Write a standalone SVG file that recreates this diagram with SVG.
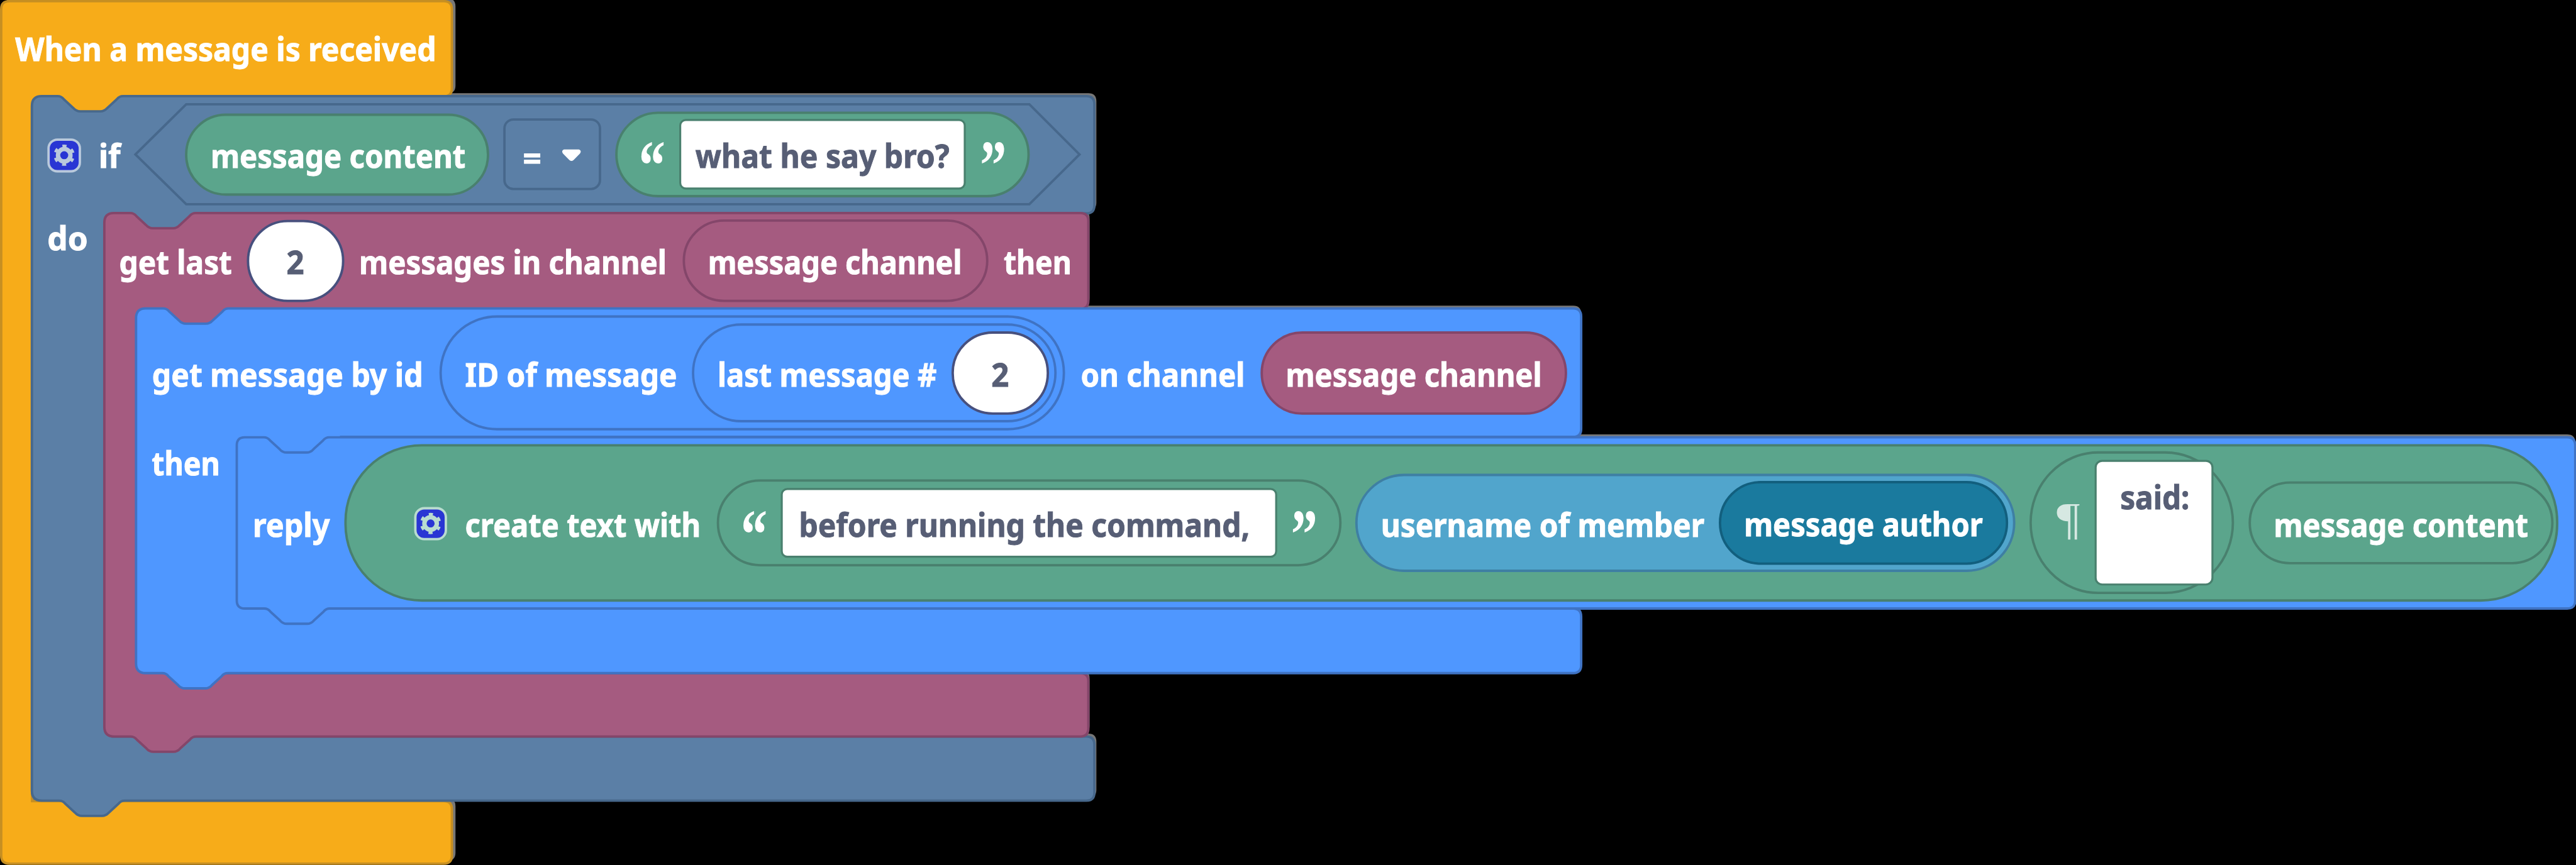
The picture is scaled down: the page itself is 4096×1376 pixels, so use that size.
<svg xmlns="http://www.w3.org/2000/svg" xmlns:xlink="http://www.w3.org/1999/xlink" width="4096" height="1376" viewBox="0 0 4096 1376">
<style>
text{font-family:"Noto Sans","Open Sans","Liberation Sans",sans-serif;font-weight:700;font-size:82px;fill:#fff;stroke:#fff;stroke-width:1.5}
text.d{fill:#575e75;stroke:#575e75}
text.q{font-family:"Liberation Serif",serif;font-size:175px;stroke:none}
text.p{font-family:"Liberation Serif",serif;font-weight:400;font-size:112px;opacity:.75;stroke:none}
.ghost{fill:#777}
.hat{fill:#f7ac19;stroke:#c68f22;stroke-width:6}
.ctl{fill:#5b7fa6;stroke:#47688c;stroke-width:6}
.pur{fill:#a55b80;stroke:#84466a;stroke-width:6}
.blu{fill:#4f97ff;stroke:#3f73c4;stroke-width:6}
.grn{fill:#5ba58c;stroke:#49806e;stroke-width:6}
.lbl{fill:#51a5cc;stroke:#3e7fa3;stroke-width:6}
.tea{fill:#1a7a9e;stroke:#125f7e;stroke-width:6}
.wht{fill:#fff;stroke:#49806e;stroke-width:5}
.num{fill:#fff;stroke:#47507e;stroke-width:6}
.ico{stroke-width:6;fill:#2936d4}
</style>
<defs>
<path id="p-hat" d="M3,23Q3,3 23,3H1106Q1126,3 1126,23V220Q1126,240 1106,240H340V300H80V1997H1106Q1126,1997 1126,2017V2133Q1126,2153 1106,2153H23Q3,2153 3,2133Z"/>
<path id="p-if" d="M79.5,264Q79.5,239.5 104,239.5H143q10,0 16,8l24,22q7,8 17,8h50q10,0 17,-8l24,-22q6,-8 16,-8H2707Q2727,239.5 2727,259.5V512Q2727,532 2707,532H520V600H280V1836H2707Q2727,1836 2727,1856V1976Q2727,1996 2707,1996H311q-10,0 -16,8l-24,22q-7,8 -17,8h-50q-10,0 -17,-8l-24,-22q-6,-8 -16,-8H104Q79.5,1996 79.5,1972Z"/>
<path id="p-get" d="M260,555Q260,531 284,531H324q10,0 16,8l24,22q7,8 17,8h50q10,0 17,-8l24,-22q6,-8 16,-8H2692Q2712,531 2712,551V750Q2712,770 2692,770H600V830H460V1678H2692Q2712,1678 2712,1698V1816Q2712,1836 2692,1836H489q-10,0 -16,8l-24,22q-7,8 -17,8h-50q-10,0 -17,-8l-24,-22q-6,-8 -16,-8H284Q260,1836 260,1812Z"/>
<path id="p-msg" d="M339,793Q339,769 363,769H406q10,0 16,8l24,22q7,8 17,8h50q10,0 17,-8l24,-22q6,-8 16,-8H3920Q3940,769 3940,789V1069Q3940,1089 3920,1089H850V1150H700V1517H3920Q3940,1517 3940,1537V1658Q3940,1678 3920,1678H568q-10,0 -16,8l-24,22q-7,8 -17,8h-50q-10,0 -17,-8l-24,-22q-6,-8 -16,-8H363Q339,1678 339,1654Z"/>
<path id="p-rep" d="M590,1110Q590,1090 610,1090H657q10,0 16,8l24,22q7,8 17,8h50q10,0 17,-8l24,-22q6,-8 16,-8H6397Q6417,1090 6417,1110V1497Q6417,1517 6397,1517H822q-10,0 -16,8l-24,22q-7,8 -17,8h-50q-10,0 -17,-8l-24,-22q-6,-8 -16,-8H610Q590,1517 590,1497Z"/>
<g id="gear" fill="none">
<circle r="15.5" stroke-width="11"/>
<circle r="23" stroke-width="7" stroke-dasharray="10 14.08" stroke-dashoffset="5" transform="rotate(30)"/>
</g>
</defs>
<rect id="background" width="4096" height="1376" fill="#000"/>
<g transform="scale(.63811)">
<g id="outer-edges">
<use href="#p-hat" class="ghost" transform="translate(9,-7)"/>
<use href="#p-if" class="ghost" transform="translate(5,-7)"/>
<use href="#p-get" class="ghost" transform="translate(3,-7)"/>
<use href="#p-msg" class="ghost" transform="translate(0,-7)"/>
<use href="#p-rep" class="ghost" transform="translate(0,-7)"/>
</g>
<g id="when-message">
<use href="#p-hat" class="hat"/>
<text x="38" y="152" textLength="1049" lengthAdjust="spacingAndGlyphs">When a message is received</text>
</g>
<g id="if-block">
<use href="#p-if" class="ctl"/>
<rect class="ico" x="121" y="348" width="78" height="79" rx="22" stroke="#b9c9dc"/>
<use href="#gear" x="160" y="387" stroke="#b9c9dc"/>
<text x="246" y="418" textLength="54" lengthAdjust="spacingAndGlyphs">if</text>
<text x="118" y="623" textLength="101" lengthAdjust="spacingAndGlyphs">do</text>
<g id="condition">
<path class="ctl" d="M337.5,385L464,260H2565L2690,385L2565,509H464Z"/>
<g id="cond-left">
<rect class="grn" x="464" y="286" width="752" height="199" rx="99" />
<text x="525" y="418" textLength="635" lengthAdjust="spacingAndGlyphs">message content</text>
</g>
<g id="cond-op">
<rect class="ctl" x="1257" y="298" width="238" height="173" rx="22"/>
<text x="1303" y="424" textLength="46" lengthAdjust="spacingAndGlyphs">=</text>
<path d="M1406,374H1442Q1448,376 1444,382L1428,398Q1424,401 1420,398L1404,382Q1400,376 1406,374Z" fill="#fff" stroke="#fff" stroke-width="3"/>
</g>
<g id="cond-right">
<rect class="grn" x="1536" y="281" width="1027" height="208" rx="104"/>
<text class="q" x="1592" y="472" textLength="66" lengthAdjust="spacingAndGlyphs">“</text>
<rect class="wht" x="1695" y="299" width="709" height="171" rx="14"/>
<text class="d" x="1733" y="419" textLength="633" lengthAdjust="spacingAndGlyphs">what he say bro?</text>
<text class="q" x="2442" y="472" textLength="66" lengthAdjust="spacingAndGlyphs">”</text>
</g>
</g>
</g>
<g id="get-last-messages">
<use href="#p-get" class="pur"/>
<text x="297" y="684" textLength="281" lengthAdjust="spacingAndGlyphs">get last</text>
<g id="count-a">
<rect class="num" x="618" y="551" width="237" height="199" rx="99"/>
<text class="d" x="714" y="684" textLength="44" lengthAdjust="spacingAndGlyphs">2</text>
</g>
<text x="895" y="684" textLength="766" lengthAdjust="spacingAndGlyphs">messages in channel</text>
<g id="channel-a">
<rect class="pur" x="1704" y="550" width="756" height="200" rx="100"/>
<text x="1764" y="684" textLength="633" lengthAdjust="spacingAndGlyphs">message channel</text>
</g>
<text x="2501" y="684" textLength="169" lengthAdjust="spacingAndGlyphs">then</text>
</g>
<g id="get-message-by-id">
<use href="#p-msg" class="blu"/>
<text x="379" y="964" textLength="675" lengthAdjust="spacingAndGlyphs">get message by id</text>
<g id="id-of-message">
<rect class="blu" x="1098" y="789" width="1553" height="281" rx="140"/>
<text x="1159" y="964" textLength="528" lengthAdjust="spacingAndGlyphs">ID of message</text>
<g id="last-message">
<rect class="blu" x="1727" y="809" width="903" height="241" rx="120"/>
<text x="1788" y="964" textLength="546" lengthAdjust="spacingAndGlyphs">last message #</text>
<g id="count-b">
<rect class="num" x="2374" y="829" width="237" height="202" rx="100"/>
<text class="d" x="2470" y="964" textLength="44" lengthAdjust="spacingAndGlyphs">2</text>
</g>
</g>
</g>
<text x="2693" y="964" textLength="409" lengthAdjust="spacingAndGlyphs">on channel</text>
<g id="channel-b">
<rect class="pur" x="3144" y="829" width="758" height="202" rx="101"/>
<text x="3204" y="964" textLength="638" lengthAdjust="spacingAndGlyphs">message channel</text>
</g>
<text x="378" y="1184" textLength="170" lengthAdjust="spacingAndGlyphs">then</text>
</g>
<g id="reply-block">
<use href="#p-rep" class="blu"/>
<text x="630" y="1338" textLength="192" lengthAdjust="spacingAndGlyphs">reply</text>
<g id="create-text">
<rect class="grn" x="861" y="1110" width="5511" height="387" rx="190"/>
<rect class="ico" x="1035" y="1267" width="76" height="77" rx="22" stroke="#b9dcd0"/>
<use href="#gear" x="1073" y="1305" stroke="#b9dcd0"/>
<text x="1159" y="1338" textLength="587" lengthAdjust="spacingAndGlyphs">create text with</text>
<g id="text-before">
<rect class="grn" x="1789" y="1198" width="1551" height="211" rx="105"/>
<text class="q" x="1846" y="1391" textLength="66" lengthAdjust="spacingAndGlyphs">“</text>
<rect class="wht" x="1948" y="1219" width="1232" height="169" rx="14"/>
<text class="d" x="1991" y="1338" textLength="1123" lengthAdjust="spacingAndGlyphs">before running the command,</text>
<text class="q" x="3217" y="1391" textLength="66" lengthAdjust="spacingAndGlyphs">”</text>
</g>
<g id="username">
<rect class="lbl" x="3380" y="1184" width="1639" height="239" rx="119"/>
<text x="3441" y="1338" textLength="806" lengthAdjust="spacingAndGlyphs">username of member</text>
<g id="message-author">
<rect class="tea" x="4286" y="1202" width="715" height="203" rx="101"/>
<text x="4346" y="1337" textLength="595" lengthAdjust="spacingAndGlyphs">message author</text>
</g>
</g>
<g id="multiline-text">
<rect class="grn" x="5060" y="1128" width="504" height="350" rx="168" ry="175"/>
<text class="p" x="5125" y="1330" textLength="58" lengthAdjust="spacingAndGlyphs">¶</text>
<rect class="wht" x="5222" y="1149" width="291" height="308" rx="16"/>
<text class="d" x="5283" y="1269" textLength="173" lengthAdjust="spacingAndGlyphs">said:</text>
</g>
<g id="content-b">
<rect class="grn" x="5606" y="1203" width="754" height="201" rx="100"/>
<text x="5666" y="1338" textLength="634" lengthAdjust="spacingAndGlyphs">message content</text>
</g>
</g>
</g>
</g>
</svg>
